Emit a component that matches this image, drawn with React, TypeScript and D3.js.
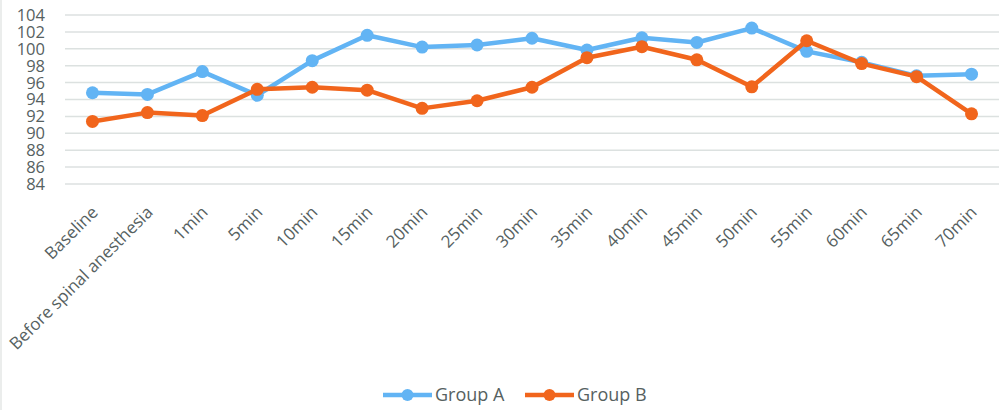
import React, { useEffect, useRef } from 'react'
import * as d3 from 'd3'

const categories = [
  'Baseline', 'Before spinal anesthesia', '1min', '5min', '10min', '15min', '20min', '25min',
  '30min', '35min', '40min', '45min', '50min', '55min', '60min', '65min', '70min',
]
const groupA = [94.8, 94.6, 97.3, 94.5, 98.6, 101.6, 100.2, 100.45, 101.25, 99.85, 101.3, 100.75, 102.45, 99.7, 98.4, 96.8, 97.0]
const groupB = [91.4, 92.45, 92.1, 95.2, 95.45, 95.1, 92.95, 93.85, 95.45, 98.95, 100.25, 98.7, 95.5, 100.95, 98.25, 96.7, 92.3]
const yTicks = [84, 86, 88, 90, 92, 94, 96, 98, 100, 102, 104]

const series = [
  { name: 'Group A', values: groupA, color: '#62b4f4' },
  { name: 'Group B', values: groupB, color: '#f1651c' },
]

const W = 1000
const H = 410
const margin = { left: 65, right: 1, top: 15, bottom: 226 }
const textColor = '#56615f'
const font = "'Open Sans', sans-serif"

const App = () => {
  const ref = useRef<SVGSVGElement>(null)

  useEffect(() => {
    const svg = d3.select(ref.current)
    svg.selectAll('*').remove()

    const x = d3.scaleBand().domain(categories).range([margin.left, W - margin.right])
    const y = d3.scaleLinear().domain([84, 104]).range([H - margin.bottom, margin.top])
    const cx = (c: string) => (x(c) as number) + x.bandwidth() / 2

    // faint frame edge on the left
    svg.append('line')
      .attr('x1', 1).attr('x2', 1).attr('y1', 0).attr('y2', H)
      .attr('stroke', '#e4e7e6').attr('stroke-width', 1.5)

    // gridlines
    svg.append('g')
      .selectAll('line')
      .data(yTicks)
      .enter()
      .append('line')
      .attr('x1', margin.left)
      .attr('x2', W - margin.right)
      .attr('y1', (d) => y(d))
      .attr('y2', (d) => y(d))
      .attr('stroke', '#dce1e0')
      .attr('stroke-width', 1.5)

    // y labels
    svg.append('g')
      .selectAll('text')
      .data(yTicks)
      .enter()
      .append('text')
      .attr('x', 45)
      .attr('y', (d) => y(d))
      .attr('dy', '0.36em')
      .attr('text-anchor', 'end')
      .attr('font-family', font)
      .attr('font-size', 16.5)
      .attr('fill', textColor)
      .text((d) => d)

    // x labels
    svg.append('g')
      .selectAll('text')
      .data(categories)
      .enter()
      .append('text')
      .attr('transform', (d) => `translate(${cx(d) - 2},${y(84) + 21}) rotate(-45)`)
      .attr('text-anchor', 'end')
      .attr('dy', '0.7em')
      .attr('font-family', font)
      .attr('font-size', 17)
      .attr('fill', textColor)
      .text((d) => d)

    const line = d3.line<number>()
      .x((_, i) => cx(categories[i]))
      .y((d) => y(d))

    series.forEach((s) => {
      const g = svg.append('g')
      g.append('path')
        .datum(s.values)
        .attr('d', line)
        .attr('fill', 'none')
        .attr('stroke', s.color)
        .attr('stroke-width', 4.5)
        .attr('stroke-linejoin', 'round')
      g.selectAll('circle')
        .data(s.values)
        .enter()
        .append('circle')
        .attr('cx', (_, i) => cx(categories[i]))
        .attr('cy', (d) => y(d))
        .attr('r', 6.5)
        .attr('fill', s.color)
    })

    // legend
    const legend = svg.append('g').attr('transform', 'translate(383,395)')
    series.forEach((s, i) => {
      const g = legend.append('g').attr('transform', `translate(${i * 142},0)`)
      g.append('line')
        .attr('x1', 0)
        .attr('x2', 49)
        .attr('stroke', s.color)
        .attr('stroke-width', 4.5)
      g.append('circle').attr('cx', 24.5).attr('r', 6).attr('fill', s.color)
      g.append('text')
        .attr('x', 52)
        .attr('dy', '0.36em')
        .attr('font-family', font)
        .attr('font-size', 18)
        .attr('fill', textColor)
        .text(s.name)
    })
  }, [])

  return (
    <svg
      ref={ref}
      width={W}
      height={H}
      style={{ position: 'absolute', left: 0, top: 0, background: '#fff' }}
    />
  )
}

export default App
